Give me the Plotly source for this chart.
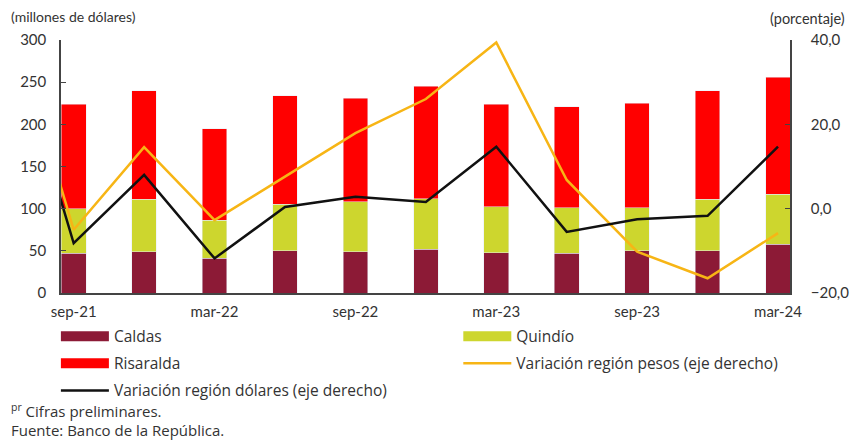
import plotly.graph_objects as go

periods = ["jun-21", "sep-21", "dic-21", "mar-22", "jun-22", "sep-22", "dic-22",
           "mar-23", "jun-23", "sep-23", "dic-23", "mar-24"]
bar_periods = periods[1:]
tick_labels = ["sep-21", "mar-22", "sep-22", "mar-23", "sep-23", "mar-24"]

caldas = [47, 49, 41, 50, 49, 52, 48, 47, 50, 50, 58]
quindio = [53, 62, 45, 55, 59, 60, 54, 54, 51, 61, 59]
risaralda = [124, 129, 109, 129, 123, 133, 122, 120, 124, 129, 139]

var_pesos = [51.0, -5.0, 14.6, -2.7, 7.6, 17.9, 26.0, 39.4, 6.8, -10.2, -16.5, -5.8]
var_dolares = [48.0, -8.2, 8.0, -11.8, 0.4, 2.8, 1.6, 14.7, -5.5, -2.5, -1.7, 14.7]

C_CALDAS = "#8C1A36"
C_QUINDIO = "#CDD62E"
C_RISARALDA = "#FF0000"
C_PESOS = "#F7B515"
C_DOLARES = "#111111"

FONT = "Lato"
LFONT = "Open Sans"
TXT = "#333333"

fig = go.Figure()
# bars (legend entries drawn by wide-swatch companions in the same legend group)
for name, vals, col in [("Caldas", caldas, C_CALDAS), ("Quindío", quindio, C_QUINDIO),
                        ("Risaralda", risaralda, C_RISARALDA)]:
    fig.add_trace(go.Bar(x=bar_periods, y=vals, name=name, marker_color=col, width=0.35,
                         legendgroup=name, showlegend=False))

fig.add_trace(go.Scatter(x=periods, y=var_pesos, name="Variación región pesos (eje derecho)",
                         mode="lines", line=dict(color=C_PESOS, width=2.5), yaxis="y2",
                         legend="legend2", legendgroup="pesos", legendrank=2))
fig.add_trace(go.Scatter(x=periods, y=var_dolares, name="Variación región dólares (eje derecho)",
                         mode="lines", line=dict(color=C_DOLARES, width=2.5), yaxis="y2",
                         legend="legend", legendgroup="dolares", legendrank=3))

# legend swatches for the bar series (wide rectangles as in the reference)
for name, col, leg, rank in [("Caldas", C_CALDAS, "legend", 1),
                             ("Quindío", C_QUINDIO, "legend2", 1),
                             ("Risaralda", C_RISARALDA, "legend", 2)]:
    fig.add_trace(go.Scatter(x=[None], y=[None], mode="lines", name=name,
                             line=dict(color=col, width=10), legend=leg,
                             legendgroup=name, legendrank=rank, hoverinfo="skip"))

legend_common = dict(orientation="v", bgcolor="rgba(0,0,0,0)", borderwidth=0,
                     font=dict(family=LFONT, size=15.5, color=TXT), itemwidth=48,
                     traceorder="grouped", tracegroupgap=4, xanchor="left", yanchor="top")

fig.update_layout(
    width=853, height=432,
    margin=dict(l=53, r=62, t=32, b=147),
    paper_bgcolor="white", plot_bgcolor="white",
    barmode="stack",
    font=dict(family=FONT, size=15, color=TXT),
    showlegend=True,
    legend=dict(x=-0.007, y=-0.105, **legend_common),
    legend2=dict(x=0.545, y=-0.105, **legend_common),
    xaxis=dict(type="category", categoryorder="array", categoryarray=periods,
               range=[0.82, 11.17], tickmode="array", tickvals=tick_labels,
               ticktext=tick_labels, ticks="", showline=True, linecolor="#444444",
               linewidth=1.5, showgrid=False, zeroline=False, ticklabelstandoff=4,
               tickfont=dict(family=FONT, size=15, color=TXT)),
    yaxis=dict(range=[0, 300], tickvals=[0, 50, 100, 150, 200, 250, 300],
               showline=True, linecolor="#444444", linewidth=1.5, ticks="inside",
               ticklen=5, tickcolor="#444444", showgrid=False, zeroline=False,
               ticklabelstandoff=10,
               tickfont=dict(family=FONT, size=15, color=TXT)),
    yaxis2=dict(range=[-20, 40], tickvals=[-20, 0, 20, 40], tickformat=".1f",
                overlaying="y", side="right", showline=True, linecolor="#444444",
                linewidth=1.5, ticks="inside", ticklen=5, tickcolor="#444444",
                showgrid=False, zeroline=False, ticklabelstandoff=16,
                tickfont=dict(family=FONT, size=15, color=TXT)),
    separators=",.",
    annotations=[
        dict(text="(millones de dólares)", xref="paper", yref="paper", x=-0.0715, y=1.091,
             xanchor="left", yanchor="middle", showarrow=False,
             font=dict(family=FONT, size=14, color=TXT)),
        dict(text="(porcentaje)", xref="paper", yref="paper", x=1.078, y=1.085,
             xanchor="right", yanchor="middle", showarrow=False,
             font=dict(family=FONT, size=14.5, color=TXT)),
        dict(text="<sup>pr</sup> Cifras preliminares.", xref="paper", yref="paper",
             x=-0.0715, y=-0.463, xanchor="left", yanchor="middle", showarrow=False,
             font=dict(family=LFONT, size=15, color=TXT)),
        dict(text="Fuente: Banco de la República.", xref="paper", yref="paper",
             x=-0.0715, y=-0.542, xanchor="left", yanchor="middle", showarrow=False,
             font=dict(family=LFONT, size=15, color=TXT)),
    ],
)

fig.write_html("out.html")
